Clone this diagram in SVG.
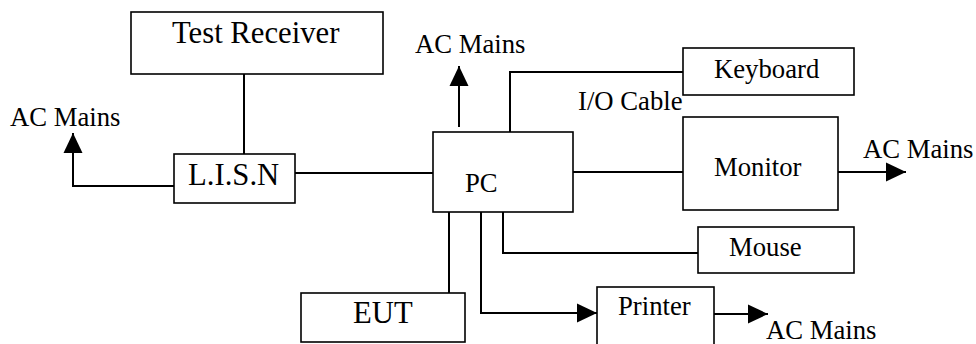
<svg xmlns="http://www.w3.org/2000/svg" width="976" height="344" viewBox="0 0 976 344">
<style>
.box{fill:#fff;stroke:#000;stroke-width:1.6}
text{font-family:'Liberation Serif','DejaVu Serif',serif;fill:#000}
.t{font-size:26.7px}
.tl{font-size:30.7px}
.c{fill:none;stroke:#000;stroke-width:2}
</style>
<defs>
<marker id="ah" viewBox="0 0 20 20" refX="20" refY="10" markerWidth="20" markerHeight="20" markerUnits="userSpaceOnUse" orient="auto">
<path d="M0,0.5 L20,10 L0,19.5 Z" fill="#000"/>
</marker>
</defs>
<g id="connectors">
<line class="c" x1="244" y1="74" x2="244" y2="154"/>
<line class="c" x1="295" y1="173" x2="433" y2="173"/>
<polyline class="c" points="174,186 73,186 73,133" marker-end="url(#ah)"/>
<line class="c" x1="459" y1="127" x2="459" y2="66" marker-end="url(#ah)"/>
<polyline class="c" points="510,132 510,72 683,72"/>
<line class="c" x1="573" y1="172" x2="683" y2="172"/>
<line class="c" x1="838" y1="172" x2="906" y2="172" marker-end="url(#ah)"/>
<polyline class="c" points="503,212 503,253 698,253"/>
<line class="c" x1="449" y1="212" x2="449" y2="293"/>
<polyline class="c" points="481,212 481,313 597,313" marker-end="url(#ah)"/>
<line class="c" x1="714" y1="314" x2="768" y2="314" marker-end="url(#ah)"/>
</g>
<g id="test-receiver">
<rect class="box" x="131" y="12" width="252" height="62"/>
<text class="tl" x="172" y="43" font-family="Liberation Serif, serif">Test Receiver</text>
</g>
<g id="lisn">
<rect class="box" x="174" y="154" width="121" height="49"/>
<text class="tl" x="188" y="185" font-family="Liberation Serif, serif">L.I.S.N</text>
</g>
<g id="pc">
<rect class="box" x="433" y="132" width="140" height="80"/>
<text class="t" x="465" y="192" font-family="Liberation Serif, serif">PC</text>
</g>
<g id="keyboard">
<rect class="box" x="683" y="48" width="171" height="47"/>
<text class="t" x="714" y="78" font-family="Liberation Serif, serif">Keyboard</text>
</g>
<g id="monitor">
<rect class="box" x="683" y="117" width="155" height="93"/>
<text class="t" x="714" y="176" font-family="Liberation Serif, serif">Monitor</text>
</g>
<g id="mouse">
<rect class="box" x="698" y="227" width="156" height="46"/>
<text class="t" x="729" y="256" font-family="Liberation Serif, serif">Mouse</text>
</g>
<g id="eut">
<rect class="box" x="301" y="293" width="164" height="49"/>
<text class="tl" x="353" y="323" font-family="Liberation Serif, serif">EUT</text>
</g>
<g id="printer">
<rect class="box" x="597" y="287" width="117" height="70"/>
<text class="t" x="618" y="315" font-family="Liberation Serif, serif">Printer</text>
</g>
<g id="labels">
<text class="t" x="10" y="126" font-family="Liberation Serif, serif">AC Mains</text>
<text class="t" x="415" y="53" font-family="Liberation Serif, serif">AC Mains</text>
<text class="t" x="578" y="110" font-family="Liberation Serif, serif">I/O Cable</text>
<text class="t" x="863" y="158" font-family="Liberation Serif, serif">AC Mains</text>
<text class="t" x="766" y="339" font-family="Liberation Serif, serif">AC Mains</text>
</g>
</svg>
